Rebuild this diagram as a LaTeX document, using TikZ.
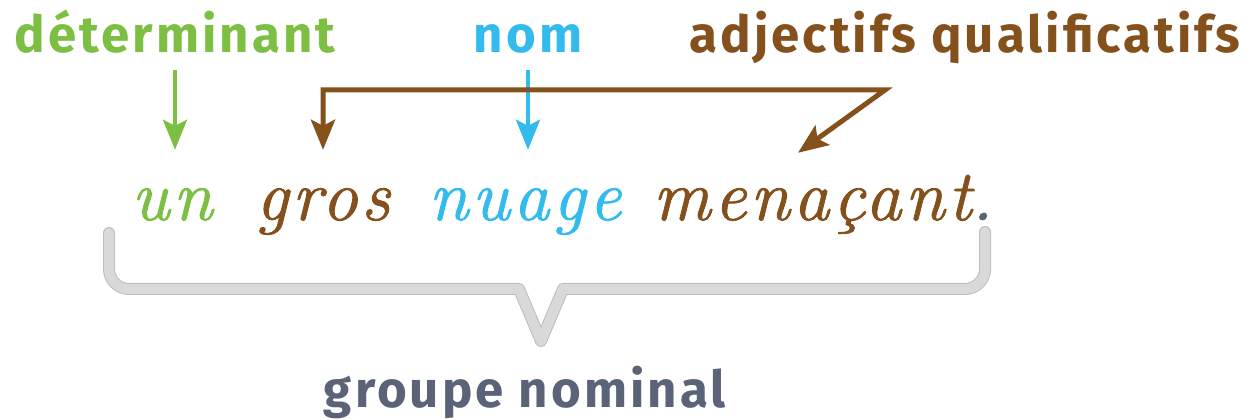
\documentclass[tikz,border=0pt]{standalone}
\usepackage{fontspec}
\usetikzlibrary{arrows.meta}

\newfontfamily\classfont{Fira Sans}[LetterSpace = 6]
\newfontfamily\cursivefont{Latin Modern Roman}[LetterSpace = 5, FakeBold = 1.2]

\definecolor{detgreen}{HTML}{7CBF42}
\definecolor{nomblue}{HTML}{33BBEE}
\definecolor{adjbrown}{HTML}{84501C}
\definecolor{gnslate}{HTML}{5A6378}
\definecolor{bracegrey}{HTML}{D9D9D9}
\definecolor{braceedge}{HTML}{BDBDBD}

\begin{document}
\begin{tikzpicture}[x = 1pt, y = -1pt,
            wordclass/.style = {inner sep = 0pt, anchor = base, text depth = 17pt,
                font = \classfont\bfseries\fontsize{51}{56}\selectfont},
            word/.style = {inner sep = 0pt, anchor = base, text height = 70pt, text depth = 30pt,
                font = \cursivefont\itshape\fontsize{72}{80}\selectfont},
            headtip/.tip = {Stealth[length = 30pt, width = 24pt, inset = 6pt]},
            pointer/.style = {line width = 4pt, -headtip},
            gnbrace/.style = {draw = braceedge, double = bracegrey, double distance = 10pt,
                line width = 1pt, line cap = round, line join = round}]
            \useasboundingbox (0, 0) rectangle (1245, 419);

            % word classes
            \node[wordclass, detgreen] (det) at (175, 53) {déterminant};
            \node[wordclass, nomblue] (nom) at (528, 53) {nom};
            \node[wordclass, adjbrown] (adj) at (965, 53) {adjectifs qualificatifs};

            % the sentence
            \node[word, detgreen] (un) at (172, 220) {un};
            \node[word, adjbrown] (gros) at (323, 220) {gros};
            \node[word, nomblue] (nuage) at (525, 220) {nuage};
            \node[word, adjbrown] (menacant) at (823, 220) {menaçant\textcolor{gnslate}{.}};

            \draw[pointer, detgreen] (det.south) -- (det.south |- un.north);
            \draw[pointer, nomblue] (nom.south) -- (nom.south |- nuage.north);

            \coordinate (adjbend) at (885, 90);
            \draw[pointer, adjbrown, line width = 5pt, headtip-headtip] (gros.north) |- (adjbend)
                -- ([xshift = -25pt, yshift = -3pt]menacant.north);

            % brace under the group
            \draw[gnbrace, rounded corners = 20pt] (109, 233) -- (109, 289) -- (300, 289)
                [sharp corners] -- (519, 289) -- (541, 341) -- (563, 289) -- (750, 289)
                [rounded corners = 20pt] -- (985, 289) -- (985, 232);

            \node[wordclass, gnslate] (gn) at (525, 408) {groupe nominal};
\end{tikzpicture}
\end{document}
